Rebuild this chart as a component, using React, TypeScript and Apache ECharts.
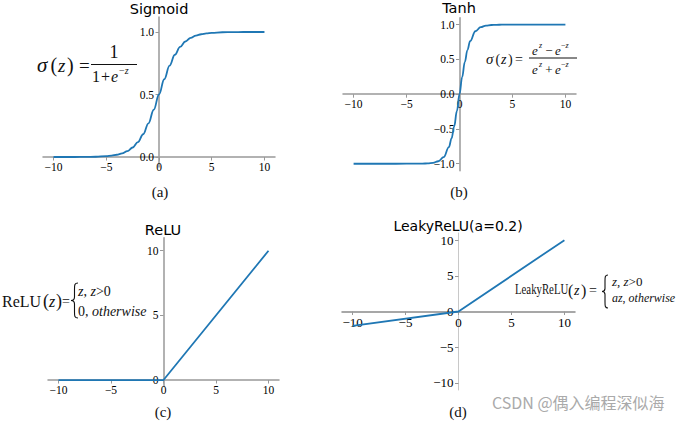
import React, { useEffect, useRef } from "react";
import * as echarts from "echarts";

// ---- data ----
const xTicks = [-10, -5, 0, 5, 10];

const sigmoidX = [-10, -8, -7, -6, -5, -4.5, -4, -3.5, -3, -2.5, -2, -1.5, -1, -0.5, 0, 0.5, 1, 1.5, 2, 2.5, 3, 3.5, 4, 4.5, 5, 6, 7, 8, 10];
const sigmoidY = [0.0, 0.0, 0.001, 0.002, 0.007, 0.011, 0.018, 0.029, 0.047, 0.076, 0.119, 0.182, 0.269, 0.378, 0.5, 0.622, 0.731, 0.818, 0.881, 0.924, 0.953, 0.971, 0.982, 0.989, 0.993, 0.998, 0.999, 1.0, 1.0];
const sigmoidYTicks = [0, 0.5, 1];

const tanhX = [-10, -8, -6, -4, -3.5, -3, -2.5, -2, -1.5, -1, -0.75, -0.5, -0.25, 0, 0.25, 0.5, 0.75, 1, 1.5, 2, 2.5, 3, 3.5, 4, 6, 8, 10];
const tanhY = [-1, -1, -1, -0.999, -0.998, -0.995, -0.987, -0.964, -0.905, -0.762, -0.635, -0.462, -0.245, 0, 0.245, 0.462, 0.635, 0.762, 0.905, 0.964, 0.987, 0.995, 0.998, 0.999, 1, 1, 1];
const tanhYTicks = [-1, -0.5, 0, 0.5, 1];

const reluX = [-10, 0, 10];
const reluY = [0, 0, 10];
const reluYTicks = [0, 5, 10];

const leakyX = [-10, 0, 10];
const leakyY = [-2, 0, 10];
const leakyYTicks = [-10, -5, 0, 5, 10];

const titles = ["Sigmoid", "Tanh", "ReLU", "LeakyReLU(a=0.2)"];
const captions = ["(a)", "(b)", "(c)", "(d)"];
const watermark = "CSDN @偶入编程深似海";

// ---- styling ----
const SERIF = '"Liberation Serif", "Times New Roman", serif';
const SANS = '"DejaVu Sans", sans-serif';
const BLUE = "#1f77b4";
const INK = "#111";

const minus = (s: string) => s.replace("-", "\u2212");
const fmtInt = (v: number) => minus(String(v));
const fmt1 = (v: number) => minus(v.toFixed(1));

const zip = (xs: number[], ys: number[]) => xs.map((x, i) => [x, ys[i]]);

// panel layout: grid rect and axis ranges
const panels = [
  { left: 43, top: 17, width: 232, height: 150, xMin: -11, xMax: 11, yMin: -0.08, yMax: 1.12 },
  { left: 343, top: 17.7, width: 233, height: 153, xMin: -11, xMax: 11, yMin: -1.1, yMax: 1.1 },
  { left: 48, top: 237.8, width: 231, height: 148.7, xMin: -11, xMax: 11, yMin: -0.5, yMax: 11 },
  { left: 342, top: 233, width: 233, height: 157, xMin: -11, xMax: 11, yMin: -11, yMax: 11 },
];

function labelStyle(fontSize: number, margin: number, fmt: (v: number) => string, ticks: number[]) {
  return { show: true, customValues: ticks, formatter: fmt, fontFamily: SERIF, fontSize, color: "#000", margin };
}

function xAxis(i: number, fontSize: number, color: string, width: number) {
  const p = panels[i];
  const off = -(p.height * (0 - p.yMin)) / (p.yMax - p.yMin);
  return {
    type: "value",
    gridIndex: i,
    min: p.xMin,
    max: p.xMax,
    position: "bottom",
    offset: off,
    axisLine: { show: true, onZero: false, lineStyle: { color, width } },
    axisTick: { show: true, customValues: xTicks, length: 3.5, lineStyle: { color: "#999", width: 1 } },
    axisLabel: labelStyle(fontSize, 4, fmtInt, xTicks),
    splitLine: { show: false },
  };
}

function yAxis(i: number, ticks: number[], fmt: (v: number) => string, fontSize: number, color: string, width: number) {
  const p = panels[i];
  const off = -(p.width * (0 - p.xMin)) / (p.xMax - p.xMin);
  return {
    type: "value",
    gridIndex: i,
    min: p.yMin,
    max: p.yMax,
    position: "left",
    offset: off,
    axisLine: { show: true, onZero: false, lineStyle: { color, width } },
    axisTick: { show: true, customValues: ticks, length: 3.5, lineStyle: { color: "#999", width: 1 } },
    axisLabel: labelStyle(fontSize, 5, fmt, ticks),
    splitLine: { show: false },
  };
}

function txt(x: number, y: number, text: string, size: number, opt: any = {}) {
  const align = opt.align ?? "left";
  return {
    type: "text",
    x,
    y,
    scaleX: opt.scaleX ?? 1,
    silent: true,
    z: 100,
    style: {
      text,
      fontSize: size,
      fontFamily: opt.family ?? SERIF,
      fontStyle: opt.italic ? "italic" : "normal",
      fontWeight: opt.weight ?? "normal",
      fill: opt.color ?? INK,
      align,
      textAlign: align,
      verticalAlign: "middle",
      textVerticalAlign: "middle",
      rich: opt.rich,
    },
  };
}

function richStyles(size: number) {
  return {
    i: { fontStyle: "italic", fontFamily: SERIF, fontSize: size, fill: INK },
    n: { fontStyle: "normal", fontFamily: SERIF, fontSize: size, fill: INK },
  };
}

function hline(x1: number, x2: number, y: number, w = 1) {
  return { type: "line", silent: true, z: 100, shape: { x1, y1: y, x2, y2: y }, style: { stroke: INK, lineWidth: w } };
}

const BRACE_C = "M7,0 C3.5,0 3.5,2 3.5,6 L3.5,14 C3.5,16.5 2,17.5 0,17.5 C2,17.5 3.5,18.5 3.5,21 L3.5,29 C3.5,33 3.5,35 7,35";
const BRACE_D = "M6,0 C3,0 3,2 3,6 L3,13.5 C3,15.5 1.5,16.5 0,16.5 C1.5,16.5 3,17.5 3,19.5 L3,27 C3,31 3,33 6,33";

function buildGraphic() {
  const g: any[] = [];
  // titles
  g.push(txt(159, 8.5, titles[0], 14.5, { family: SANS, align: "center", color: "#000" }));
  g.push(txt(459, 8, titles[1], 14.5, { family: SANS, align: "center", color: "#000" }));
  g.push(txt(163, 229.5, titles[2], 14.5, { family: SANS, align: "center", color: "#000" }));
  g.push(txt(458, 226, titles[3], 14, { family: SANS, align: "center", color: "#000" }));
  // captions
  g.push(txt(160, 192, captions[0], 15, { align: "center" }));
  g.push(txt(459, 192, captions[1], 15, { align: "center" }));
  g.push(txt(163, 412, captions[2], 15, { align: "center" }));
  g.push(txt(458, 412, captions[3], 15, { align: "center" }));

  // (a) sigmoid formula
  g.push(txt(37, 65, "σ", 21, { italic: true }));
  g.push(txt(50.5, 64.5, "(", 20));
  g.push(txt(58, 65, "z", 19, { italic: true }));
  g.push(txt(67, 64.5, ")", 20));
  g.push(txt(79, 65, "=", 19));
  g.push(hline(91, 137, 64.5));
  g.push(txt(114, 52, "1", 18, { align: "center" }));
  g.push(txt(96, 76, "1", 16, { align: "center" }));
  g.push(txt(105.5, 76, "+", 16, { align: "center" }));
  g.push(txt(111, 76, "e", 16, { italic: true }));
  g.push(txt(119, 70, "{n|\u2212}{i|z}", 10, { rich: richStyles(10) }));

  // (b) tanh formula
  g.push(txt(486, 59, "σ", 15, { italic: true }));
  g.push(txt(495.5, 59, "(", 14));
  g.push(txt(501, 59, "z", 14, { italic: true }));
  g.push(txt(508, 59, ")", 14));
  g.push(txt(515, 59, "=", 14));
  g.push(hline(529, 577, 58));
  // numerator
  g.push(txt(532, 50, "e", 13, { italic: true }));
  g.push(txt(539, 45, "z", 8, { italic: true }));
  g.push(txt(549, 50, "\u2212", 13, { align: "center" }));
  g.push(txt(555, 50, "e", 13, { italic: true }));
  g.push(txt(561, 45, "{n|\u2212}{i|z}", 8, { rich: richStyles(8) }));
  // denominator
  g.push(txt(532, 69, "e", 13, { italic: true }));
  g.push(txt(539, 64, "z", 8, { italic: true }));
  g.push(txt(549, 69, "+", 13, { align: "center" }));
  g.push(txt(555, 69, "e", 13, { italic: true }));
  g.push(txt(561, 64, "{n|\u2212}{i|z}", 8, { rich: richStyles(8) }));

  // (c) ReLU formula
  g.push(txt(2, 301, "ReLU", 16));
  g.push(txt(43, 301, "(", 18));
  g.push(txt(49, 301, "z", 16, { italic: true }));
  g.push(txt(56, 301, ")", 18));
  g.push(txt(62, 301, "=", 14));
  g.push({ type: "braceC", x: 71, y: 283, silent: true, z: 100, style: { fill: "none", stroke: INK, lineWidth: 1.1 } });
  g.push(txt(78, 291, "{i|z}{n|, }{i|z}{n|>0}", 14, { rich: richStyles(14) }));
  g.push(txt(78, 311, "{n|0, }{i|otherwise}", 14, { rich: richStyles(14) }));

  // (d) LeakyReLU formula
  g.push(txt(515, 290, "LeakyReLU", 14, { scaleX: 0.77 }));
  g.push(txt(568, 290, "(", 16));
  g.push(txt(574, 290, "z", 14, { italic: true }));
  g.push(txt(581, 290, ")", 16));
  g.push(txt(589, 290, "=", 14));
  g.push({ type: "braceD", x: 602, y: 275, silent: true, z: 100, style: { fill: "none", stroke: INK, lineWidth: 1.1 } });
  g.push(txt(612, 281, "{i|z}{n|, }{i|z}{n|>0}", 13, { rich: richStyles(13) }));
  g.push(txt(612, 298, "{i|az}{n|, }{i|otherwise}", 13, { rich: richStyles(13), scaleX: 0.92 }));

  // watermark
  g.push(txt(492, 402, watermark, 16, { family: '"Noto Sans CJK SC", sans-serif', color: "#aaaaaa" }));
  return g;
}

function buildOption() {
  const line = (i: number, xs: number[], ys: number[], smooth: boolean) => ({
    type: "line",
    xAxisIndex: i,
    yAxisIndex: i,
    data: zip(xs, ys),
    showSymbol: false,
    symbol: "none",
    smooth: smooth ? 0.4 : false,
    smoothMonotone: "x",
    lineStyle: { color: BLUE, width: 1.8 },
    z: 3,
  });
  return {
    animation: false,
    backgroundColor: "#ffffff",
    textStyle: { fontFamily: SERIF },
    grid: panels.map((p) => ({ left: p.left, top: p.top, width: p.width, height: p.height })),
    xAxis: [
      xAxis(0, 11.5, "#999", 1.5),
      xAxis(1, 11.5, "#999", 1.5),
      xAxis(2, 11.5, "#999", 1.5),
      xAxis(3, 13, "#8a8a8a", 1.5),
    ],
    yAxis: [
      yAxis(0, sigmoidYTicks, fmt1, 11.5, "#999", 1.5),
      yAxis(1, tanhYTicks, fmt1, 11.5, "#999", 1.5),
      yAxis(2, reluYTicks, fmtInt, 11.5, "#999", 1.5),
      yAxis(3, leakyYTicks, fmtInt, 13, "#c8c8c8", 1),
    ],
    series: [
      line(0, sigmoidX, sigmoidY, true),
      line(1, tanhX, tanhY, true),
      line(2, reluX, reluY, false),
      line(3, leakyX, leakyY, false),
    ],
    graphic: { elements: buildGraphic() },
  };
}

export default function App() {
  const ref = useRef<HTMLDivElement>(null);
  useEffect(() => {
    document.body.style.margin = "0";
    echarts.graphic.registerShape("braceC", echarts.graphic.extendPath(BRACE_C, {}));
    echarts.graphic.registerShape("braceD", echarts.graphic.extendPath(BRACE_D, {}));
    const chart = echarts.init(ref.current as HTMLDivElement, null, { renderer: "svg" });
    chart.setOption(buildOption() as any);
    return () => chart.dispose();
  }, []);
  return <div ref={ref} style={{ width: 679, height: 421, position: "absolute", left: 0, top: 0 }} />;
}
